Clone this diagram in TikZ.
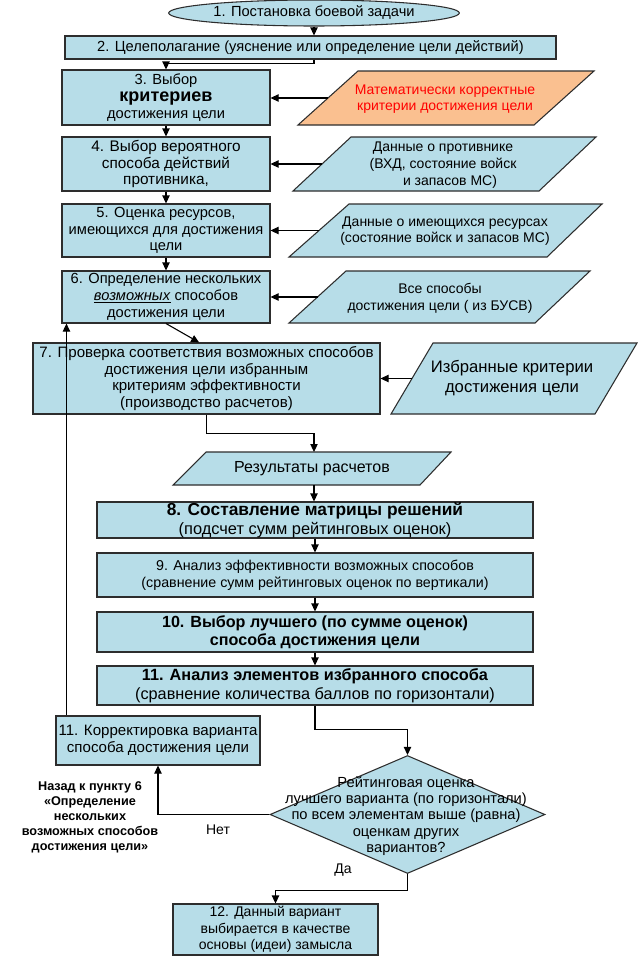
\documentclass[tikz,border=0pt]{standalone}
\usepackage{fontspec}
\setmainfont{Liberation Sans}
\usetikzlibrary{shapes.geometric,arrows.meta}
\definecolor{boxfill}{RGB}{183,221,232}
\definecolor{orangefill}{RGB}{250,192,144}
\definecolor{edge}{RGB}{45,45,45}
\begin{document}
\begin{tikzpicture}[x=0.75pt,y=-0.75pt,
  box/.style={draw=edge,fill=boxfill,line width=0.8pt,inner sep=0pt,align=center,font=\fontsize{11}{12.5}\selectfont},
  para/.style={draw=edge,fill=boxfill,line width=0.8pt},
  txt/.style={inner sep=0pt,align=center,font=\fontsize{10.5}{12.5}\selectfont},
  arr/.style={draw=black,line width=0.8pt,-{Triangle[length=6pt,width=5.5pt]}},
  ln/.style={draw=black,line width=0.8pt}]
\path[use as bounding box] (0,0) rectangle (640,960);

% parallelograms
\draw[para,fill=orangefill] (358,71) -- (594,71) -- (534,125) -- (298,125) -- cycle;
\coordinate (p3w) at (328,98);
\node[txt,text=red] (p3) at (445,99) {Математически корректные\\критерии достижения цели};

\draw[para] (351,137) -- (596,137) -- (539,191) -- (293,191) -- cycle;
\coordinate (p4w) at (322,164);
\node[txt] (p4) at (443,165) {Данные о противнике\\(ВХД, состояние войск\\\hspace*{1em}и запасов МС)};

\draw[para] (349,204) -- (602,204) -- (547,257) -- (289,257) -- cycle;
\coordinate (p5w) at (319,230.5);
\node[txt] (p5) at (445,231) {Данные о имеющихся ресурсах\\(состояние войск и запасов МС)};

\draw[para] (346,271) -- (590,271) -- (535,323) -- (289,323) -- cycle;
\coordinate (p6w) at (317.5,297);
\node[txt] (p6) at (440,298) {Все способы\\достижения цели ( из БУСВ)};

\draw[para] (433,343) -- (637,343) -- (595,414) -- (391,414) -- cycle;
\coordinate (p7w) at (412,378.5);
\node[txt,font=\fontsize{12.5}{15}\selectfont] (p7) at (512,378) {Избранные критерии\\достижения цели};

\draw[para] (206,452) -- (451,452) -- (420,485) -- (173,485) -- cycle;
\coordinate (prt) at (314,452);
\coordinate (prb) at (314,485);
\node[txt,font=\fontsize{12}{14}\selectfont] (pr) at (312,469) {Результаты расчетов};

% boxes
\node[ellipse,box,minimum width=218pt,minimum height=19.5pt,font=\fontsize{11}{12.5}\selectfont] (e1) at (314,13) {1. Постановка боевой задачи};
\node[box,minimum width=368.25pt,minimum height=17.25pt] (b2) at (310.5,47.5) {2. Целеполагание (уяснение или определение цели действий)};
\node[box,minimum width=156pt,minimum height=41.25pt] (b3) at (166,97.5) {3. Выбор\\{\fontsize{13.5}{14}\selectfont\bfseries критериев}\\достижения цели};
\node[box,minimum width=156pt,minimum height=40.5pt,font=\fontsize{11.5}{12.5}\selectfont] (b4) at (166,164) {4. Выбор вероятного\\способа действий\\противника,};
\node[box,minimum width=156pt,minimum height=39.75pt] (b5) at (166,230.5) {5. Оценка ресурсов,\\имеющихся для достижения\\цели};
\node[box,minimum width=156pt,minimum height=39pt] (b6) at (166,297) {6. Определение нескольких\\\underline{\textit{возможных}} способов\\достижения цели};
\node[box,minimum width=260.25pt,minimum height=53.25pt,font=\fontsize{11.3}{12.5}\selectfont] (b7) at (206.5,378.5) {7. Проверка соответствия возможных способов\\достижения цели избранным\\критериям эффективности\\(производство расчетов)};
\node[box,minimum width=327pt,minimum height=27pt,font=\fontsize{12.3}{14}\selectfont] (b8) at (315,520) {{\fontsize{13}{14}\selectfont\bfseries 8. Составление матрицы решений}\\(подсчет сумм рейтинговых оценок)};
\node[box,minimum width=327pt,minimum height=33pt,font=\fontsize{10.7}{13}\selectfont] (b9) at (315,575) {9. Анализ эффективности возможных способов\\(сравнение сумм рейтинговых оценок по вертикали)};
\node[box,minimum width=327pt,minimum height=30pt,font=\fontsize{12.1}{13.5}\selectfont\bfseries] (b10) at (315,632) {10. Выбор лучшего (по сумме оценок)\\способа достижения цели};
\node[box,minimum width=327pt,minimum height=29.25pt,font=\fontsize{12.2}{14}\selectfont] (b11) at (315,685.5) {\textbf{11. Анализ элементов избранного способа}\\(сравнение количества баллов по горизонтали)};
\node[box,minimum width=153pt,minimum height=36.75pt,font=\fontsize{11.3}{12.5}\selectfont] (b11c) at (158,740.5) {11. Корректировка варианта\\способа достижения цели};
\node[diamond,draw=edge,fill=boxfill,line width=0.8pt,inner sep=0pt,minimum width=206.25pt,minimum height=88.5pt] (d) at (407.5,814.5) {};
\node[txt,font=\fontsize{11}{12.2}\selectfont] (dt) at (406,816) {Рейтинговая оценка\\лучшего варианта (по горизонтали)\\по всем элементам выше (равна)\\оценкам других\\вариантов?};
\node[box,minimum width=153.75pt,minimum height=38.25pt,font=\fontsize{10.5}{12.5}\selectfont] (b12) at (275.5,929.5) {12. Данный вариант\\выбирается в качестве\\основы (идеи) замысла};

% labels
\node[txt,font=\fontsize{9.5}{11.2}\selectfont\bfseries] (back) at (90,817) {Назад к пункту 6\\«Определение\\нескольких\\возможных способов\\достижения цели»};
\node[txt,font=\fontsize{10.5}{12.5}\selectfont] (no) at (218,830) {Нет};
\node[txt,font=\fontsize{10.5}{12.5}\selectfont] (yes) at (343,870) {Да};

% connectors
\draw[arr] (e1.south) -- (e1.south |- b2.north);
\draw[arr] (e1.south |- b2.south) -- ++(0,4) -| (b3.north);
\draw[arr] (b3.south) -- (b4.north);
\draw[arr] (b4.south) -- (b5.north);
\draw[arr] (b5.south) -- (b6.north);
\draw[arr] (b6.south) -- ([xshift=125pt]b7.north west);
\draw[arr] (p3w) -- (p3w -| b3.east);
\draw[arr] (p4w) -- (p4w -| b4.east);
\draw[arr] (p5w) -- (p5w -| b5.east);
\draw[arr] (p6w) -- (p6w -| b6.east);
\draw[arr] (p7w) -- (p7w -| b7.east);
\draw[arr] (b7.south) -- ++(0,19) -| (prt);
\draw[arr] (prb) -- (prb |- b8.north);
\draw[arr] (b8.south) -- (b9.north);
\draw[arr] (b9.south) -- (b10.north);
\draw[arr] (b10.south) -- (b11.north);
\draw[arr] (b11.south) -- ++(0,24) -| (d.north);
\draw[arr] (d.south) -- ++(0,16) -| (b12.north);
\draw[arr] (d.west) -| (b11c.south);
\draw[arr] ([xshift=8.25pt]b11c.north west) -- ([xshift=3.75pt]b6.south west);
\end{tikzpicture}
\end{document}
